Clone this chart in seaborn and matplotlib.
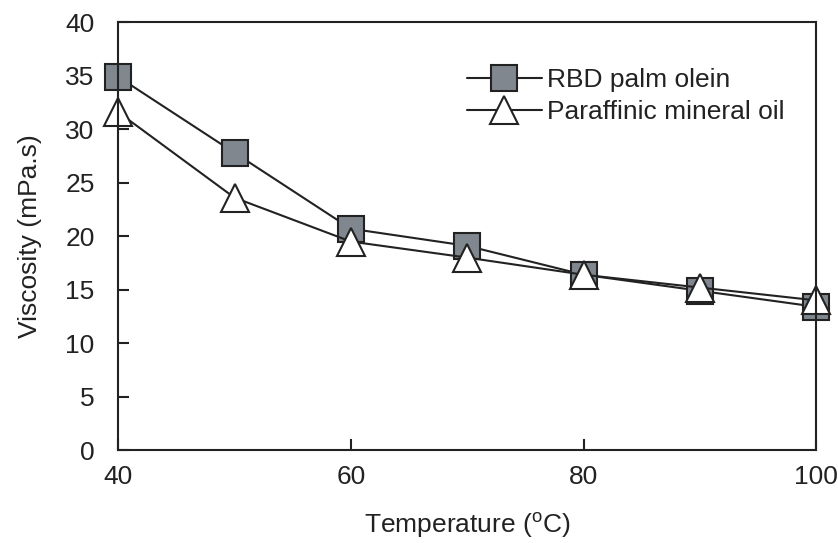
import matplotlib
matplotlib.use("Agg")
import matplotlib.pyplot as plt
import seaborn as sns

# Data
temperature = [40, 50, 60, 70, 80, 90, 100]
rbd_palm_olein = [34.9, 27.8, 20.7, 19.1, 16.4, 14.9, 13.4]
paraffinic_oil = [31.6, 23.6, 19.5, 18.0, 16.4, 15.2, 14.0]

x_ticks = [40, 60, 80, 100]
y_ticks = [0, 5, 10, 15, 20, 25, 30, 35, 40]

sns.set_style("ticks")
plt.rcParams['font.family'] = ['Liberation Sans', 'DejaVu Sans']
plt.rcParams['mathtext.fontset'] = 'custom'
plt.rcParams['mathtext.rm'] = 'Liberation Sans'

ink = '#222222'
fsize = 19
fig, ax = plt.subplots(figsize=(8.38, 5.43), dpi=100)
fig.subplots_adjust(left=0.141, right=0.974, top=0.959, bottom=0.171)

sns.lineplot(x=temperature, y=rbd_palm_olein, ax=ax, color=ink, linewidth=1.5,
             marker='s', markersize=19, markerfacecolor='#80878e',
             markeredgecolor=ink, markeredgewidth=1.5, label='RBD palm olein',
             clip_on=False)
sns.lineplot(x=temperature, y=paraffinic_oil, ax=ax, color=ink, linewidth=1.5,
             marker='^', markersize=20, markerfacecolor='white',
             markeredgecolor=ink, markeredgewidth=1.5, label='Paraffinic mineral oil',
             clip_on=False)

ax.set_xlim(40, 100)
ax.set_ylim(0, 40)
ax.set_xticks(x_ticks)
ax.set_yticks(y_ticks)
for s in ax.spines.values():
    s.set_visible(True)
    s.set_linewidth(1.5)
    s.set_color(ink)
ax.tick_params(direction='in', length=8, width=1.5, color=ink,
               labelsize=fsize, labelcolor=ink)
ax.tick_params(axis='y', pad=17)
ax.tick_params(axis='x', pad=11)

ax.set_xlabel('Temperature ($^{\\mathrm{o}}$C)', fontsize=fsize, color=ink, labelpad=15)
ax.set_ylabel('Viscosity (mPa.s)', fontsize=fsize, color=ink, labelpad=17)

leg = ax.legend(loc='upper right', bbox_to_anchor=(0.955, 0.893), frameon=False,
                fontsize=fsize, handlelength=2.85, handletextpad=0.2,
                labelspacing=0.3, borderpad=0, borderaxespad=0)
for t in leg.get_texts():
    t.set_color(ink)

fig.savefig('out.png', dpi=100)
